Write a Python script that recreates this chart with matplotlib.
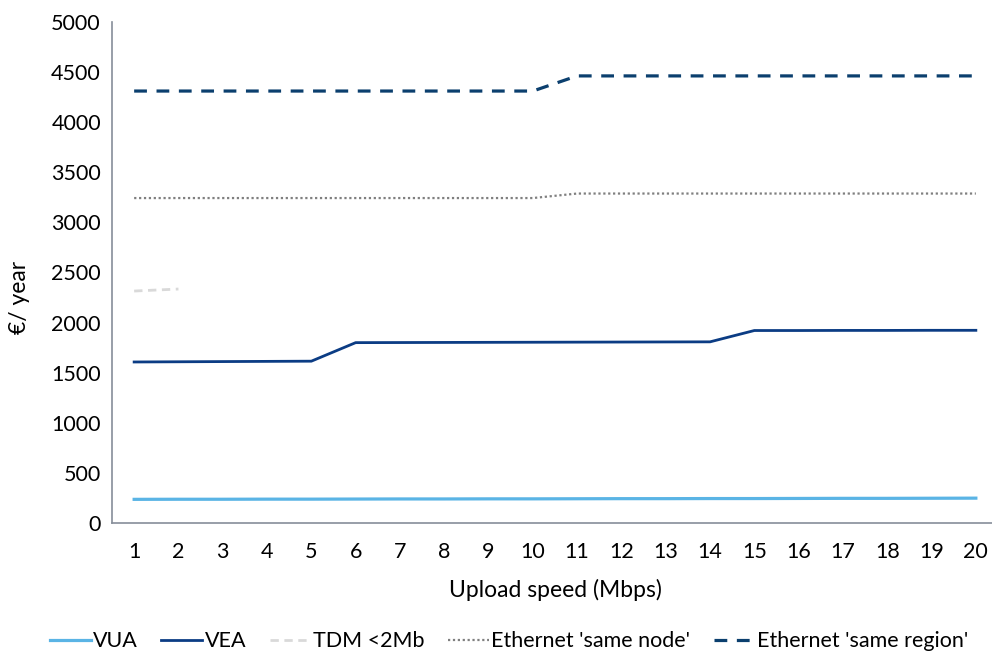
import numpy as np
import matplotlib.pyplot as plt

plt.rcParams['font.family'] = ['Lato', 'DejaVu Sans']

speeds = np.arange(1, 21)
vua = [236, 237, 237, 238, 238, 239, 240, 240, 241, 241,
       242, 243, 243, 244, 244, 245, 246, 246, 247, 248]
vea = [1607, 1609, 1611, 1613, 1615, 1800, 1801, 1802, 1803, 1804,
       1805, 1806, 1807, 1808, 1921, 1921, 1922, 1922, 1923, 1923]
tdm_speeds = [1, 2]
tdm = [2315, 2335]
eth_node = [3243] * 10 + [3288] * 10
eth_region = [4311] * 10 + [4462] * 10

fig = plt.figure(figsize=(9.92, 6.55), dpi=100)
ax = fig.add_axes([112 / 992, 1 - 523 / 655, 886 / 992, 501 / 655])

ax.plot(speeds, vua, color='#5AB4E5', lw=2.3, label='VUA')
ax.plot(speeds, vea, color='#0B3C84', lw=2.0, label='VEA')
ax.plot(tdm_speeds, tdm, color='#D9D9D9', lw=2.0, ls=(0, (3, 2)), label='TDM <2Mb')
ax.plot(speeds, eth_node, color='#7F7F7F', lw=1.6, ls=(0, (1, 1.2)),
        label="Ethernet 'same node'")
ax.plot(speeds, eth_region, color='#0B3F6E', lw=2.3, ls=(0, (4, 3)),
        label="Ethernet 'same region'")

ax.set_xlim(0.5, 20.5)
ax.set_ylim(0, 5000)
ax.set_xticks(speeds)
ax.set_yticks(np.arange(0, 5001, 500))
ax.tick_params(length=0, labelsize=15.5)
ax.tick_params(axis='y', pad=8)
ax.tick_params(axis='x', pad=14)
for s in ['top', 'right']:
    ax.spines[s].set_visible(False)
for s in ['left', 'bottom']:
    ax.spines[s].set_color('#868E99')
    ax.spines[s].set_linewidth(1.2)

ax.set_xlabel('Upload speed (Mbps)', fontsize=16.5, labelpad=12)
ax.set_ylabel('€/ year', fontsize=16.5, labelpad=8)
ax.yaxis.set_label_coords(-82 / 886, 0.45)

fig.legend(loc='lower center', bbox_to_anchor=(0.513, -0.024), ncol=5, frameon=False,
           fontsize=15.5, handlelength=1.9, handletextpad=0.1, columnspacing=1.1)

fig.savefig('out.png', dpi=100)
